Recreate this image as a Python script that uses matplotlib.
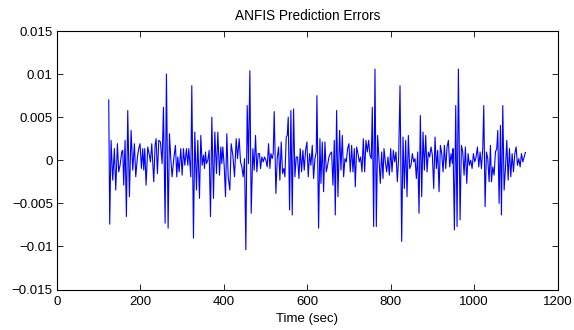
import matplotlib
matplotlib.use("Agg")
import matplotlib.pyplot as plt
import numpy as np

plt.rcParams['font.family'] = ['Liberation Sans', 'DejaVu Sans']

# time (sec) and prediction error (x1e-3)
t1 = [124, 126.4, 129.6, 133.6, 137.6, 140.8, 144.8, 148, 151.2, 155.2, 157.6, 160, 163.2, 166.4,
      169.6, 173.6, 177.6, 181.6, 185.6, 188.8, 192.8, 196, 199.2, 202.4, 205.6, 208, 210.4, 213.6,
      217.6, 221.6, 224, 227.2, 232, 235.2, 237.6, 240.8, 244, 248, 252, 255.2, 259.2, 262.4, 266.4,
      269.6, 272.8, 276, 280, 284, 287.2, 289.6, 292.8, 296.8, 300, 303.2, 306.4, 310.4, 313.6, 316]
e1 = [7.0, -7.42, 2.31, -2.31, 1.35, -3.46, 1.92, -1.35, -0.58, 0.96, 1.15, -2.88, 2.31, -6.54,
      5.77, -4.23, 3.46, -1.15, 1.92, -1.92, 0.38, 1.35, 1.92, -0.96, 1.35, -1.15, 1.35, -2.88,
      1.54, 0.58, -0.19, 1.92, -2.5, 1.73, 2.5, -1.54, 2.31, 2.12, -0.38, 6.15, -7.31, 10.0, -7.88,
      3.08, 0.19, -1.92, 0.2, 1.73, -1.92, 0.38, -1.35, 1.35, -1.73, 1.35, -0.58, 1.35, -0.58, 1.35]

t2 = [320.8, 323.2, 327.2, 330.4, 334.4, 337.6, 341.6, 344.8, 348, 351.2, 353.6, 356, 358.4, 361.6,
      364.8, 368, 371.2, 375.2, 378.4, 382.4, 385.6, 389.6, 392.8, 395.2, 397.6, 400.8, 404, 407.2,
      410.4, 414.4, 417.6, 421.6, 425.6, 429.6, 432.8, 436.8, 440, 443.2, 446.4, 449.6, 452.8, 456,
      459.2, 462.4, 465.6, 469.6, 472.8, 476, 479.2, 482.4, 485.6, 488, 491.2, 494.4, 497.6, 500.8,
      504, 507.2, 510.4, 512.8, 516, 518.4, 520.8]
e2 = [-1.92, 8.65, -9.04, 3.27, -3.46, 2.31, -4.42, 2.88, -0.58, 0.58, -0.96, 0.96, -0.38, 0.0,
      1.15, -6.54, 5.0, -4.42, 3.27, -1.54, 3.27, -1.73, 1.54, -0.38, 1.54, -0.58, -4.23, 3.08,
      -1.92, -3.46, 1.92, 0.58, -1.92, 2.5, 0.19, 2.5, -0.19, -0.77, -1.92, 0.19, -10.38, 6.35,
      -0.38, 10.38, -6.15, 1.35, -1.15, 2.88, -1.35, 0.77, 0.77, -0.96, 0.38, -0.19, 0.38, 0.0,
      -0.77, 1.92, -0.96, 0.77, 0.19, 0.77, 5.65]

t3 = [524.8, 528, 531.2, 534.4, 537.6, 540.8, 544, 546.4, 549.6, 552, 554.4, 557.6, 560.8, 564,
      567.2, 570.4, 573.6, 576.8, 580, 583.2, 586.4, 589.6, 592.8, 596, 599.2, 602.4, 605.6, 608.8,
      612, 615.2, 618.4, 621.6, 623.2, 627.2, 630.4, 632.8, 636, 639.2, 642.4, 645.6, 648.8, 652,
      655.2, 658.4, 661.6, 664.8, 667.2, 670.4, 673.6, 677.6, 680.8, 684, 687.2, 690.4, 693.6,
      696.8, 700, 703.2, 706.4, 709.6, 712.8, 715.2, 718.4, 721.6, 724.8]
e3 = [-3.85, 0.19, 1.54, -2.31, 2.12, -1.54, -0.96, -1.92, 2.69, 2.88, 5.0, -5.77, 5.77, -6.35,
      5.96, -1.92, 0.38, 0.38, -2.12, 1.35, -1.35, 1.15, -1.15, 1.15, 2.12, -1.92, 0.77, -0.58,
      1.73, -2.12, 0.19, 0.96, 7.5, -7.88, 2.5, -2.69, 2.12, -3.65, 2.12, -1.35, -0.58, 0.38,
      0.77, 0.96, -2.88, 2.31, -6.35, 5.77, -4.23, 3.46, -1.15, 2.88, -1.92, 0.19, -0.19,
      1.35, 1.92, -1.35, 1.73, -1.35, 1.35, -3.08, 1.54, 0.77, -0.19]

t4 = [728, 731.2, 734.4, 737.6, 740.8, 744, 747.2, 750.4, 753.6, 756, 759.2, 762.4, 765.6, 768.8,
      772, 775.2, 778.4, 781.6, 784, 787.2, 790.4, 793.6, 796.8, 800, 803.2, 806.4, 809.6, 812.8,
      816, 819.2, 822.4, 826.4, 829.6, 832.8, 836, 839.2, 842.4, 845.6, 848.8, 852, 855.2, 858.4,
      861.6, 864.8, 868, 871.2, 874.4, 877.6, 880.8, 884, 887.2, 890.4, 893.6, 896.8, 900, 903.2,
      906.4, 909.6, 912.8, 916, 919.2, 922.4, 925.6, 928.8]
e4 = [0.38, -1.35, 2.5, -1.35, 2.31, 0.96, 2.31, 0.58, 0.19, 6.15, -7.69, 10.58, -7.69, 2.88,
      0.19, -2.69, 0.96, -2.12, 1.35, -0.19, -1.35, 0.38, -1.73, 1.35, -1.35, 1.15, -0.19, 0.96,
      -2.5, 0.38, 8.65, -9.42, 2.69, -3.27, 2.31, -4.23, 2.88, -0.96, -0.58, 0.77, -0.19, 0.19,
      -2.12, 0.96, -6.15, 5.19, -4.23, 3.27, -1.15, 2.88, -1.35, 0.96, 0.38, 1.54, 0.58, -3.27,
      2.69, -0.96, 1.15, -3.65, 1.73, 0.77, -1.35, 1.73]

t5 = [932, 935.2, 938.4, 941.6, 944.8, 948, 949.6, 952.8, 956, 959.2, 962.4, 966.4, 969.6, 972.8,
      976, 979.2, 982.4, 985.6, 988.8, 992, 995.2, 998.4, 1001.6, 1004.8, 1008, 1011.2, 1014.4,
      1017.6, 1020.8, 1023.2, 1026.4, 1029.6, 1032.8, 1036, 1039.2, 1041.6, 1044.8, 1048, 1051.2,
      1054.4, 1056.8, 1060, 1063.2, 1065.6, 1068.8, 1072, 1075.2, 1078.4, 1081.6, 1084.8, 1088,
      1091.2, 1094.4, 1097.6, 1100.8, 1104, 1107.2, 1110.4, 1113.6, 1116.8, 1120, 1123]
e5 = [-0.96, 1.54, 2.31, -0.77, 0.77, -0.38, 1.35, -8.08, 6.35, -7.69, 10.58, -6.92, 1.73, 0.96,
      -1.73, 1.54, -2.69, 0.77, -0.58, 0.0, -0.96, 0.77, -0.19, 0.38, 1.54, -0.77, 0.96,
      -0.96, 1.35, 6.35, -5.38, 0.96, 0.19, -2.5, 1.73, -2.5, -0.77, -1.73, 0.96,
      1.35, 3.46, -5.0, 4.04, -6.35, 6.35, -3.46, -0.96, 2.31, -2.31, 1.35, -1.92,
      0.77, -1.35, 0.77, 1.54, -0.58, 0.19, -0.77, 0.77, -0.19, 0.38, 0.9]

yticks = [-0.015, -0.01, -0.005, 0, 0.005, 0.01, 0.015]
yticklabels = ['\u22120.015', '\u22120.01', '\u22120.005', '0', '0.005', '0.01', '0.015']
xticks = [0, 200, 400, 600, 800, 1000, 1200]

t = np.array(t1 + t2 + t3 + t4 + t5)
e = np.array(e1 + e2 + e3 + e4 + e5) * 1e-3

fig = plt.figure(figsize=(5.74, 3.30), dpi=100)
ax = fig.add_axes([57/574, 1 - 289.5/330, 500.5/574, 258.5/330])
ax.plot(t, e, color=(0, 0, 1), linewidth=0.8)
ax.set_xlim(0, 1200)
ax.set_ylim(-0.015, 0.015)
ax.set_xticks(xticks)
ax.set_yticks(yticks)
ax.set_yticklabels(yticklabels)
ax.tick_params(direction='in', top=True, right=True, labelsize=9.5, length=4, width=0.6)
ax.tick_params(axis='x', pad=5)
ax.tick_params(axis='y', pad=3)
for s in ax.spines.values():
    s.set_linewidth(0.8)
ax.set_xlabel('Time (sec)', fontsize=9.5, labelpad=3.5)
ax.set_title('ANFIS Prediction Errors', fontsize=9.8, pad=8)

fig.savefig('out.png', dpi=100)
